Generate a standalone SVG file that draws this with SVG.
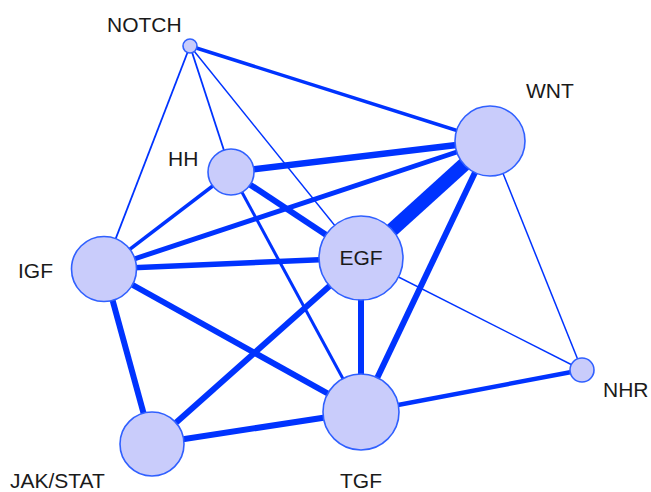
<svg xmlns="http://www.w3.org/2000/svg" width="651" height="492" viewBox="0 0 651 492">
<style>
.e{stroke:#0033ff;fill:none;stroke-linecap:butt}
.n{fill:#c9ccfb;stroke:#3060ff;stroke-width:1.6}
.t{font-family:"Liberation Sans",Arial,sans-serif;font-size:21px;fill:#1a1a1a}
</style>
<rect width="651" height="492" fill="#ffffff"/>
<g id="edges">
<line class="e" x1="190" y1="46" x2="490" y2="141" stroke-width="3.5"/>
<line class="e" x1="190" y1="46" x2="104" y2="269" stroke-width="1.8"/>
<line class="e" x1="190" y1="46" x2="231" y2="172" stroke-width="1.8"/>
<line class="e" x1="190" y1="46" x2="361" y2="258" stroke-width="1.5"/>
<line class="e" x1="231" y1="172" x2="490" y2="141" stroke-width="6.5"/>
<line class="e" x1="231" y1="172" x2="361" y2="258" stroke-width="6"/>
<line class="e" x1="231" y1="172" x2="104" y2="269" stroke-width="3.5"/>
<line class="e" x1="231" y1="172" x2="361" y2="412" stroke-width="3"/>
<line class="e" x1="104" y1="269" x2="490" y2="141" stroke-width="5"/>
<line class="e" x1="104" y1="269" x2="361" y2="258" stroke-width="5.5"/>
<line class="e" x1="104" y1="269" x2="361" y2="412" stroke-width="6"/>
<line class="e" x1="104" y1="269" x2="152" y2="444" stroke-width="6"/>
<line class="e" x1="361" y1="258" x2="152" y2="444" stroke-width="6"/>
<line class="e" x1="361" y1="258" x2="361" y2="412" stroke-width="6"/>
<line class="e" x1="361" y1="258" x2="490" y2="141" stroke-width="14"/>
<line class="e" x1="361" y1="258" x2="582" y2="370" stroke-width="1.5"/>
<line class="e" x1="490" y1="141" x2="361" y2="412" stroke-width="6"/>
<line class="e" x1="490" y1="141" x2="582" y2="370" stroke-width="1.5"/>
<line class="e" x1="361" y1="412" x2="582" y2="370" stroke-width="4.5"/>
<line class="e" x1="152" y1="444" x2="361" y2="412" stroke-width="6"/>
</g>
<g id="NOTCH"><circle class="n" cx="190" cy="46" r="7"/><text class="t" x="107" y="32">NOTCH</text></g>
<g id="HH"><circle class="n" cx="231" cy="172" r="23"/><text class="t" x="168" y="166">HH</text></g>
<g id="WNT"><circle class="n" cx="490" cy="141" r="35"/><text class="t" x="526" y="98">WNT</text></g>
<g id="EGF"><circle class="n" cx="361" cy="258" r="42"/><text class="t" x="361" y="265" text-anchor="middle">EGF</text></g>
<g id="IGF"><circle class="n" cx="104" cy="269" r="32.5"/><text class="t" x="18" y="278">IGF</text></g>
<g id="JAKSTAT"><circle class="n" cx="152" cy="444" r="32"/><text class="t" x="10" y="488">JAK/STAT</text></g>
<g id="TGF"><circle class="n" cx="361" cy="412" r="38"/><text class="t" x="340" y="488">TGF</text></g>
<g id="NHR"><circle class="n" cx="582" cy="370" r="12"/><text class="t" x="603" y="397">NHR</text></g>
</svg>
